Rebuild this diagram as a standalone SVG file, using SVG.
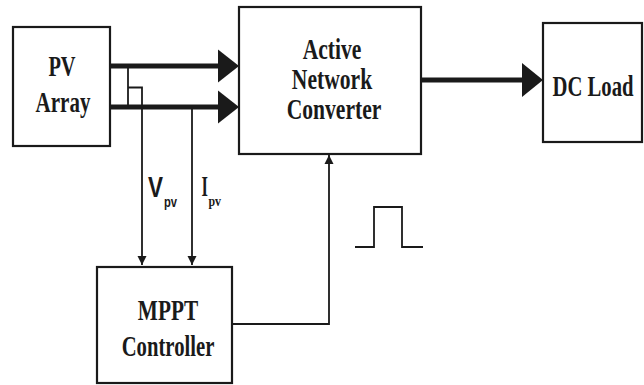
<svg xmlns="http://www.w3.org/2000/svg" width="644" height="385" viewBox="0 0 644 385">
<defs>
<style>
.box{fill:#fff;stroke:#1a1a1a;stroke-width:2.2}
.lbl{font-family:"Liberation Serif","Times New Roman",serif;font-weight:bold;font-size:30px;fill:#1a1a1a;text-anchor:middle}
.thick{stroke:#1a1a1a;stroke-width:5;fill:none}
.thin{stroke:#1a1a1a;stroke-width:1.8;fill:none}
.head{fill:#1a1a1a}
.sans{font-family:"Liberation Sans",Arial,sans-serif;font-weight:bold;fill:#1a1a1a}
.serif{font-family:"Liberation Serif","Times New Roman",serif;font-weight:bold;fill:#1a1a1a}
</style>
<marker id="sm" viewBox="0 0 10 10" refX="10" refY="5" markerWidth="5" markerHeight="5.5" markerUnits="strokeWidth" orient="auto">
<path d="M0,0 L10,5 L0,10 Z" fill="#1a1a1a"/>
</marker>
</defs>
<rect width="644" height="385" fill="#fff"/>

<g id="connectors">
<line class="thick" x1="110" y1="66" x2="220" y2="66"/>
<polygon class="head" points="218,49.5 239,66 218,82.5"/>
<line class="thick" x1="110" y1="107" x2="220" y2="107"/>
<polygon class="head" points="218,90.5 239,107 218,123.5"/>
<line class="thick" x1="421" y1="80" x2="524" y2="80"/>
<polygon class="head" points="522,63 543,80 522,97"/>
<line class="thin" x1="128" y1="66" x2="128" y2="107"/>
<polyline class="thin" points="128,87.5 142,87.5 142,265" marker-end="url(#sm)"/>
<line class="thin" x1="192" y1="107" x2="192" y2="265" marker-end="url(#sm)"/>
<polyline class="thin" points="232,324 329,324 329,155" marker-end="url(#sm)"/>
<polyline class="thin" points="355,247 374,247 374,207 402,207 402,247 423,247"/>
<text class="sans" transform="translate(148,197) scale(0.75,1)" font-size="30">V</text>
<text class="sans" transform="translate(164,207) scale(0.8,1)" font-size="14">pv</text>
<text class="serif" transform="translate(201.5,196) scale(0.55,1)" font-size="30">I</text>
<text class="serif" transform="translate(208.5,206) scale(0.85,1)" font-size="14">pv</text>
</g>

<g id="pv-array">
<rect class="box" x="13" y="27" width="97" height="119"/>
<text class="lbl" transform="translate(62,76) scale(0.68,1)">PV</text>
<text class="lbl" transform="translate(63,112) scale(0.70,1)">Array</text>
</g>

<g id="converter">
<rect class="box" x="239" y="7" width="182" height="147"/>
<text class="lbl" transform="translate(332,59) scale(0.72,1)">Active</text>
<text class="lbl" transform="translate(332,89) scale(0.72,1)">Network</text>
<text class="lbl" transform="translate(334,119) scale(0.72,1)">Converter</text>
</g>

<g id="dc-load">
<rect class="box" x="543" y="23" width="99" height="119"/>
<text class="lbl" transform="translate(593,96) scale(0.69,1)">DC Load</text>
</g>

<g id="mppt">
<rect class="box" x="97" y="267" width="135" height="116"/>
<text class="lbl" transform="translate(168,320) scale(0.71,1)">MPPT</text>
<text class="lbl" transform="translate(168,356) scale(0.69,1)">Controller</text>
</g>
</svg>
